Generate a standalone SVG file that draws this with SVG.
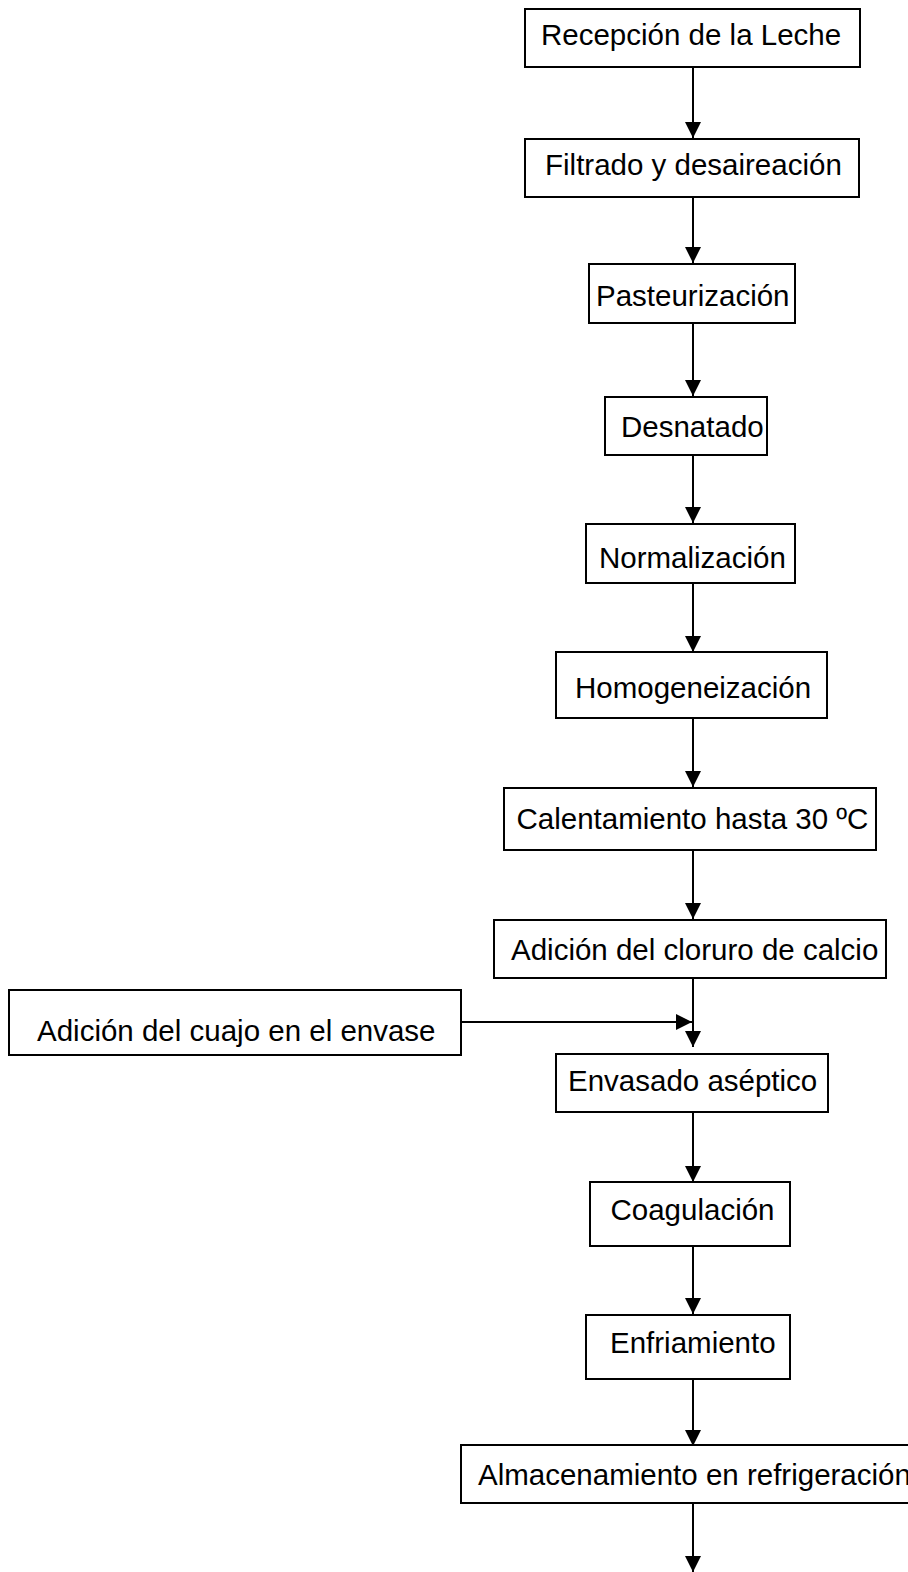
<svg xmlns="http://www.w3.org/2000/svg" width="908" height="1572" viewBox="0 0 908 1572">
<style>
.box{fill:#fff;stroke:#000;stroke-width:2}
.lbl{font-family:"Liberation Sans",Arial,sans-serif;font-size:29.5px;fill:#000}
.con{stroke:#000;stroke-width:2;fill:none}
</style>
<defs>
<marker id="ah" markerUnits="userSpaceOnUse" markerWidth="16" markerHeight="16" viewBox="0 0 15 15" refX="15" refY="7.5" orient="auto">
<path d="M0,0 L15,7.5 L0,15 z" fill="#000"/>
</marker>
</defs>
<rect width="908" height="1572" fill="#fff"/>
<g id="connectors">
<line class="con" x1="693" y1="67" x2="693" y2="138" marker-end="url(#ah)"/>
<line class="con" x1="693" y1="197" x2="693" y2="263" marker-end="url(#ah)"/>
<line class="con" x1="693" y1="323" x2="693" y2="396" marker-end="url(#ah)"/>
<line class="con" x1="693" y1="455" x2="693" y2="523" marker-end="url(#ah)"/>
<line class="con" x1="693" y1="583" x2="693" y2="652" marker-end="url(#ah)"/>
<line class="con" x1="693" y1="718" x2="693" y2="787" marker-end="url(#ah)"/>
<line class="con" x1="693" y1="850" x2="693" y2="919" marker-end="url(#ah)"/>
<line class="con" x1="693" y1="978" x2="693" y2="1047" marker-end="url(#ah)"/>
<line class="con" x1="461" y1="1022" x2="692" y2="1022" marker-end="url(#ah)"/>
<line class="con" x1="693" y1="1112" x2="693" y2="1182" marker-end="url(#ah)"/>
<line class="con" x1="693" y1="1246" x2="693" y2="1314" marker-end="url(#ah)"/>
<line class="con" x1="693" y1="1379" x2="693" y2="1446" marker-end="url(#ah)"/>
<line class="con" x1="693" y1="1503" x2="693" y2="1572" marker-end="url(#ah)"/>
</g>
<g id="n1"><rect class="box" x="525" y="9" width="335" height="58"/><text class="lbl" x="541" y="45">Recepción de la Leche</text></g>
<g id="n2"><rect class="box" x="525" y="139" width="334" height="58"/><text class="lbl" x="545" y="175">Filtrado y desaireación</text></g>
<g id="n3"><rect class="box" x="589" y="264" width="206" height="59"/><text class="lbl" x="596" y="306">Pasteurización</text></g>
<g id="n4"><rect class="box" x="605" y="397" width="162" height="58"/><text class="lbl" x="621" y="437">Desnatado</text></g>
<g id="n5"><rect class="box" x="586" y="524" width="209" height="59"/><text class="lbl" x="599" y="568">Normalización</text></g>
<g id="n6"><rect class="box" x="556" y="652" width="271" height="66"/><text class="lbl" x="575" y="698">Homogeneización</text></g>
<g id="n7"><rect class="box" x="504" y="788" width="372" height="62"/><text class="lbl" x="516.5" y="829">Calentamiento hasta 30 ºC</text></g>
<g id="n8"><rect class="box" x="494" y="920" width="392" height="58"/><text class="lbl" x="511" y="960">Adición del cloruro de calcio</text></g>
<g id="n9"><rect class="box" x="9" y="990" width="452" height="65"/><text class="lbl" x="37" y="1041">Adición del cuajo en el envase</text></g>
<g id="n10"><rect class="box" x="556" y="1054" width="272" height="58"/><text class="lbl" x="568" y="1091">Envasado aséptico</text></g>
<g id="n11"><rect class="box" x="590" y="1182" width="200" height="64"/><text class="lbl" x="610.5" y="1220">Coagulación</text></g>
<g id="n12"><rect class="box" x="586" y="1315" width="204" height="64"/><text class="lbl" x="610" y="1353">Enfriamiento</text></g>
<g id="n13"><rect class="box" x="461" y="1445" width="460" height="58"/><text class="lbl" x="478" y="1485">Almacenamiento en refrigeración</text></g>
</svg>
